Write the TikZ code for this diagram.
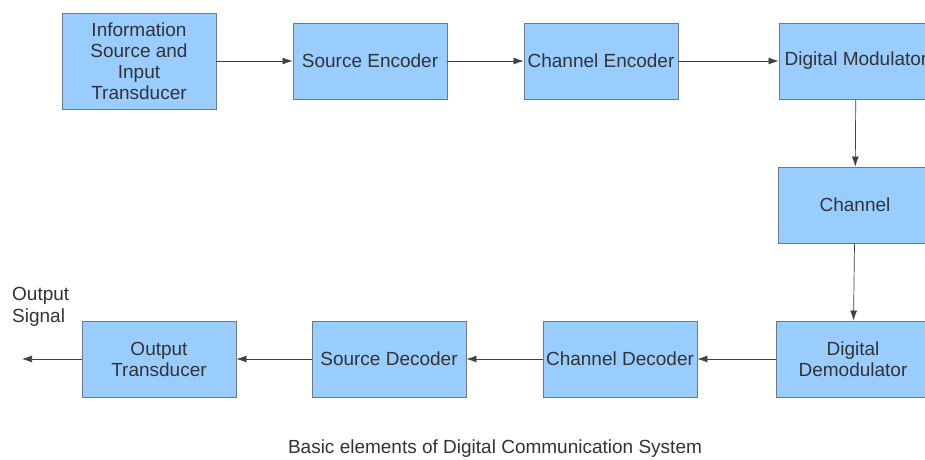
\documentclass[tikz,border=0pt]{standalone}
\usepackage{fontspec}
\setmainfont{Liberation Sans}
\usetikzlibrary{arrows.meta}
\definecolor{boxfill}{HTML}{99CCFF}
\definecolor{boxline}{HTML}{6C7A88}
\definecolor{txt}{HTML}{333333}
\begin{document}
\begin{tikzpicture}[x=1pt,y=-1pt,
  blk/.style={draw=boxline,line width=0.9pt,fill=boxfill,minimum width=154pt,minimum height=76pt,inner sep=0pt,align=center,text=txt,font=\fontsize{19}{21}\selectfont},
  conn/.style={draw=black!75,line width=0.7pt,-{Latex[length=10pt,width=7pt]}}]
\clip (0,0) rectangle (925,459);
\fill[white] (0,0) rectangle (925,459);
\node[blk,minimum height=96pt] (src) at (139,61) {Information\\Source and\\Input\\Transducer};
\node[blk] (senc) at (370,61) {Source Encoder};
\node[blk] (cenc) at (601,61) {Channel Encoder};
\node[blk] (mod) at (856,61) {Digital Modulator};
\node[blk] (chan) at (855,205) {Channel};
\node[blk] (demod) at (853,359) {Digital\\Demodulator};
\node[blk] (cdec) at (620,359) {Channel Decoder};
\node[blk] (sdec) at (389,359) {Source Decoder};
\node[blk] (otr) at (159,359) {Output\\Transducer};
\coordinate (out) at (22,359);
\node[text=txt,align=left,anchor=north west,inner sep=0pt,font=\fontsize{19}{22}\selectfont] (lbl) at (12,287) {Output\\Signal};
\node[text=txt,font=\fontsize{19}{22}\selectfont] (cap) at (495,449) {Basic elements of Digital Communication System};
\draw[conn] (src) -- (senc);
\draw[conn] (senc) -- (cenc);
\draw[conn] (cenc) -- (mod);
\draw[conn] (mod) -- (chan);
\draw[conn] (chan) -- (demod);
\draw[conn] (demod) -- (cdec);
\draw[conn] (cdec) -- (sdec);
\draw[conn] (sdec) -- (otr);
\draw[conn] (otr) -- (out);
\end{tikzpicture}
\end{document}
